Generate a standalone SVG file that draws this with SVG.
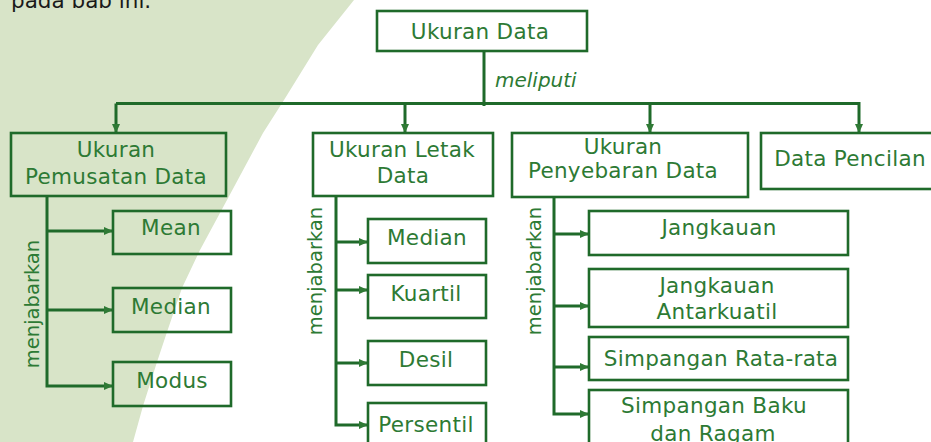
<svg xmlns="http://www.w3.org/2000/svg" width="931" height="442" viewBox="0 0 931 442">
<style>
.box{fill:none;stroke:#1f6a2a;stroke-width:2.6}
.ln{fill:none;stroke:#1f6a2a;stroke-width:3}
.ar{marker-end:url(#ah)}
.t{font-family:"DejaVu Sans","Liberation Sans",sans-serif;font-size:21.5px;fill:#2d7a34;text-anchor:middle;letter-spacing:0.3px}
.v{font-family:"DejaVu Sans","Liberation Sans",sans-serif;font-size:19.5px;fill:#2d7a34;text-anchor:middle}
.it{font-family:"DejaVu Sans","Liberation Sans",sans-serif;font-size:20px;font-style:italic;fill:#2d7a34}
</style>
<defs>
<marker id="ah" markerUnits="userSpaceOnUse" markerWidth="9" markerHeight="8" refX="9" refY="4" orient="auto">
<path d="M0,0 L9,4 L0,8 z" fill="#2f7a35"/>
</marker>
</defs>
<rect width="931" height="442" fill="#ffffff"/>
<path d="M0,0 L354,0 L318,45 L284,100 L263,133 L227,200 L200,250 L182,288 L167,332 L157,362 L143,406 L133,442 L0,442 Z" fill="#d8e4c8"/>
<text x="11" y="8" font-family="DejaVu Sans, sans-serif" font-size="21.5" fill="#1a1a1a">pada bab ini.</text>

<g id="connectors">
<path class="ln" d="M484,51 V106"/>
<path class="ln" d="M116,103.5 H859"/>
<path class="ln ar" d="M116,103.5 V133"/>
<path class="ln ar" d="M405,103.5 V133"/>
<path class="ln ar" d="M650,103.5 V133"/>
<path class="ln ar" d="M859,102 V133"/>

<path class="ln ar" d="M47,196 V386 H113"/>
<path class="ln ar" d="M47,231 H113"/>
<path class="ln ar" d="M47,310 H113"/>

<path class="ln ar" d="M336,196 V425 H368"/>
<path class="ln ar" d="M336,242 H368"/>
<path class="ln ar" d="M336,290 H368"/>
<path class="ln ar" d="M336,363 H368"/>

<path class="ln ar" d="M554,197 V414 H589"/>
<path class="ln ar" d="M554,234 H589"/>
<path class="ln ar" d="M554,306 H589"/>
<path class="ln ar" d="M554,367 H589"/>
</g>
<text class="it" x="495" y="87">meliputi</text>
<text class="v" transform="translate(38.5,304) rotate(-90)">menjabarkan</text>
<text class="v" transform="translate(322,271) rotate(-90)">menjabarkan</text>
<text class="v" transform="translate(541,271) rotate(-90)">menjabarkan</text>

<g id="ukuran-data"><rect class="box" x="377" y="11" width="210" height="40"/><text class="t" x="480" y="39">Ukuran Data</text></g>
<g id="pemusatan"><rect class="box" x="11" y="133" width="215" height="63"/><text class="t" x="116" y="157">Ukuran</text><text class="t" x="116" y="184">Pemusatan Data</text></g>
<g id="letak"><rect class="box" x="313" y="133" width="180" height="63"/><text class="t" x="402" y="157">Ukuran Letak</text><text class="t" x="403" y="183">Data</text></g>
<g id="penyebaran"><rect class="box" x="512" y="133" width="236" height="64"/><text class="t" x="623" y="154">Ukuran</text><text class="t" x="623" y="178">Penyebaran Data</text></g>
<g id="pencilan"><rect class="box" x="761" y="133" width="180" height="56"/><text class="t" x="850" y="166">Data Pencilan</text></g>

<g id="mean"><rect class="box" x="113" y="211" width="118" height="43"/><text class="t" x="171" y="235">Mean</text></g>
<g id="median1"><rect class="box" x="113" y="288" width="118" height="44"/><text class="t" x="171" y="314">Median</text></g>
<g id="modus"><rect class="box" x="113" y="362" width="118" height="44"/><text class="t" x="172" y="388">Modus</text></g>

<g id="median2"><rect class="box" x="368" y="219" width="118" height="44"/><text class="t" x="427" y="245">Median</text></g>
<g id="kuartil"><rect class="box" x="368" y="275" width="118" height="43"/><text class="t" x="426" y="301">Kuartil</text></g>
<g id="desil"><rect class="box" x="368" y="341" width="118" height="44"/><text class="t" x="426" y="367">Desil</text></g>
<g id="persentil"><rect class="box" x="368" y="403" width="118" height="50"/><text class="t" x="426" y="432">Persentil</text></g>

<g id="jangkauan"><rect class="box" x="589" y="211" width="259" height="44"/><text class="t" x="719" y="235">Jangkauan</text></g>
<g id="antarkuatil"><rect class="box" x="589" y="269" width="259" height="58"/><text class="t" x="717" y="293">Jangkauan</text><text class="t" x="717" y="319">Antarkuatil</text></g>
<g id="rata"><rect class="box" x="589" y="337" width="259" height="43"/><text class="t" x="721" y="366">Simpangan Rata-rata</text></g>
<g id="baku"><rect class="box" x="589" y="390" width="259" height="60"/><text class="t" x="714" y="413">Simpangan Baku</text><text class="t" x="713" y="441">dan Ragam</text></g>
</svg>
